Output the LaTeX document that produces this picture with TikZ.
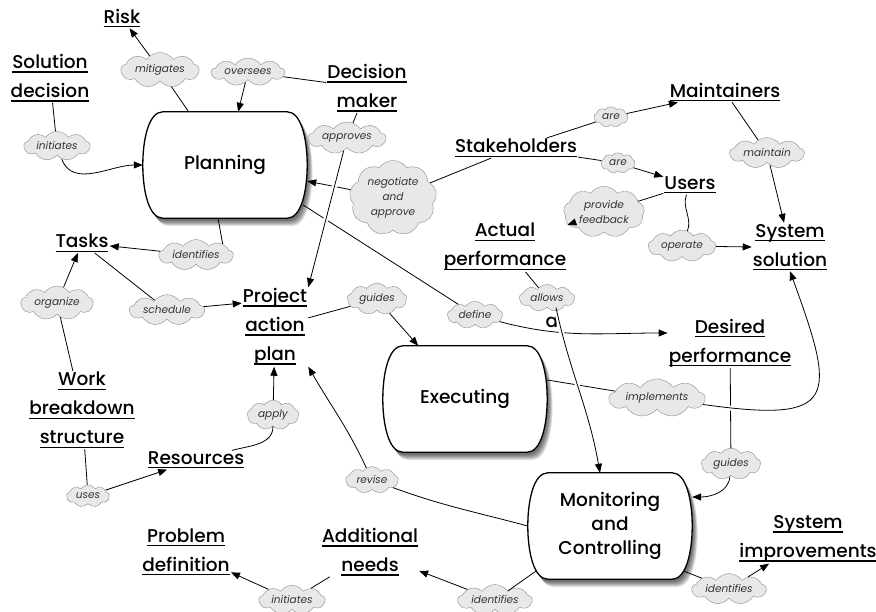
\documentclass[tikz,border=0pt]{standalone}
\usepackage{fontspec}
\setmainfont{Poppins}
\newfontfamily\conceptfont{Poppins Medium}
\usetikzlibrary{positioning, arrows.meta, calc, shapes.symbols, backgrounds}

% underline at a fixed depth below the baseline
\newcommand\uln[1]{\setbox0\hbox{#1}\rlap{\rule[-4pt]{\wd0}{1.2pt}}\box0}

% outline of a process box (flat top and bottom, bulging sides)
\newcommand\procbox[2]{%
  \path[#2] ($(#1.north west)+(20,0)$) -- ($(#1.north east)+(-20,0)$)
    .. controls ($(#1.north east)+(-6,0)$) and ($(#1.east)+(0,26)$) .. (#1.east)
    .. controls ($(#1.east)+(0,-26)$) and ($(#1.south east)+(-6,0)$) .. ($(#1.south east)+(-20,0)$)
    -- ($(#1.south west)+(20,0)$)
    .. controls ($(#1.south west)+(6,0)$) and ($(#1.west)+(0,-26)$) .. (#1.west)
    .. controls ($(#1.west)+(0,26)$) and ($(#1.north west)+(6,0)$) .. cycle;}

\begin{document}
\begin{tikzpicture}[
    x=1pt, y=1pt,
    >={Triangle[length=9pt,width=7pt]},
    concept/.style = {align=center, inner sep=1pt,
                      font=\conceptfont\fontsize{18.5}{29}\selectfont},
    process/.style = {align=center, minimum width=164pt, minimum height=106pt,
                      font=\conceptfont\fontsize{18.5}{24}\selectfont},
    link/.style    = {cloud, cloud puffs=9, cloud puff arc=110, cloud ignores aspect,
                      draw=black!45, fill=black!9, inner xsep=3pt, inner ysep=2.5pt,
                      align=center, text=black!80,
                      font=\fontsize{10.5}{15}\selectfont\itshape},
    line/.style    = {line width=0.8pt},
    arrow/.style   = {->, line width=0.8pt},
    hop/.style     = {preaction={draw=white, line width=5pt, -,
                                 shorten <=8pt, shorten >=12pt}}
]
\useasboundingbox (0,0) rectangle (876,-612);

% Process boxes
\node[process] (planning)   at (225,-165) {Planning};
\node[process] (executing)  at (465,-399) {Executing};
\node[process] (monitoring) at (610,-526) {Monitoring\\and\\Controlling};

\begin{scope}[on background layer]
\foreach \n in {planning, executing, monitoring} {
  \foreach \s in {1,...,7} {
    \procbox{\n}{fill=black, opacity=0.11,
                 transform canvas={shift={(0.5+0.7*\s,-1.5-0.9*\s)}}}
  }
  \procbox{\n}{fill=white, draw=black, line width=1.3pt}
}
\end{scope}

% Concepts
\node[concept] (risk)      at (122,-18)  {\uln{Risk}};
\node[concept] (soldec)    at (50,-78)   {\uln{Solution}\\\uln{decision}};
\node[concept] (decmaker)  at (367,-88)  {\uln{Decision}\\\uln{maker}};
\node[concept] (stake)     at (516,-148) {\uln{Stakeholders}};
\node[concept] (maint)     at (725,-92)  {\uln{Maintainers}};
\node[concept] (users)     at (690,-185) {\uln{Users}};
\node[concept] (syssol)    at (790,-247) {\uln{System}\\\uln{solution}};
\node[concept] (actual)    at (505,-247) {\uln{Actual}\\\uln{performance}};
\node[concept] (tasks)     at (82,-243)  {\uln{Tasks}};
\node[concept] (project)   at (275,-327) {\uln{Project}\\\uln{action}\\\uln{plan}};
\node[concept] (wbs)       at (82,-410)  {\uln{Work}\\\uln{breakdown}\\\uln{structure}};
\node[concept] (resources) at (196,-460) {\uln{Resources}};
\node[concept] (desired)   at (730,-343) {\uln{Desired}\\\uln{performance}};
\node[concept] (probdef)   at (186,-552) {\uln{Problem}\\\uln{definition}};
\node[concept] (addneeds)  at (370,-552) {\uln{Additional}\\\uln{needs}};
\node[concept] (sysimp)    at (808,-539) {\uln{System}\\\uln{improvements}};
\node[concept] (stray)     at (552,-322) {a};

% Linking phrases
\node[link] (mitigates)   at (160,-70)  {mitigates};
\node[link] (oversees)    at (248,-72)  {oversees};
\node[link] (initiatesA)  at (57,-146)  {initiates};
\node[link] (approves)    at (347,-138) {approves};
\node[link] (negotiate)   at (393,-198) {negotiate\\and\\approve};
\node[link] (identifiesA) at (196,-255) {identifies};
\node[link] (organize)    at (57,-303)  {organize};
\node[link] (schedule)    at (167,-310) {schedule};
\node[link] (guidesA)     at (377,-299) {guides};
\node[link] (define)      at (475,-315) {define};
\node[link] (allows)      at (547,-298) {allows};
\node[link] (areA)        at (611,-117) {are};
\node[link] (areB)        at (618,-163) {are};
\node[link] (maintain)    at (767,-153) {maintain};
\node[link] (feedback)    at (604,-212) {provide\\feedback};
\node[link] (operate)     at (682,-246) {operate};
\node[link] (apply)       at (273,-415) {apply};
\node[link] (uses)        at (88,-496)  {uses};
\node[link] (implements)  at (657,-398) {implements};
\node[link] (guidesB)     at (731,-464) {guides};
\node[link] (revise)      at (372,-480) {revise};
\node[link] (initiatesB)  at (292,-600) {initiates};
\node[link] (identifiesB) at (495,-600) {identifies};
\node[link] (identifiesC) at (729,-589) {identifies};

% Planning
\draw[line]  (planning) -- (mitigates);
\draw[arrow] (mitigates) -- (risk);
\draw[line]  (decmaker) -- (oversees);
\draw[arrow] (oversees) -- (planning);
\draw[line]  (soldec) -- (initiatesA);
\draw[arrow] (initiatesA) to[out=-70,in=180] (planning.west);
\draw[line]  (decmaker) -- (approves);
\draw[line]  (stake) -- (negotiate);
\draw[arrow] (negotiate) -- (planning);
\draw[line]  ($(planning.south)+(-7,0)$) -- (identifiesA.north east);
\draw[arrow] (identifiesA) -- (tasks);
\draw[line]  ($(planning.east)+(-4,-40)$) -- (define);
\draw[arrow] (define) to[out=-15,in=180] ([yshift=10pt]desired.west);

% Tasks and plan
\draw[line]  (wbs) -- (organize);
\draw[arrow] (organize) -- (tasks);
\draw[line]  (tasks) -- (schedule);
\draw[arrow] (schedule) -- ($(project.north west)!0.2!(project.south west)$);
\draw[line]  (wbs) -- (uses);
\draw[arrow] (uses) -- (resources);
\draw[line]  (resources) to[out=15,in=-90] (apply);
\draw[arrow] (apply) -- (project);
\draw[line]  (project) -- (guidesA);
\draw[arrow] (guidesA) -- (executing);

% Stakeholders
\draw[line]  (stake) -- (areA);
\draw[arrow] (areA) -- (maint);
\draw[line]  (stake) -- (areB);
\draw[arrow] (areB) -- (users);
\draw[line]  (maint) -- (maintain);
\draw[arrow] (maintain) -- (syssol);
\draw[line]  (users) -- (feedback);
\draw[arrow] (feedback) -- (actual);
\draw[line]  (users) to[out=-110,in=70] (operate);
\draw[arrow] (operate) -- (syssol.west);

% Executing and monitoring
\draw[line]  (actual) -- (allows);
\draw[line]  ($(executing.east)+(0,19)$) -- (implements);
\draw[line]  (desired) -- (guidesB);
\draw[arrow] (guidesB) to[out=-95,in=0] ([yshift=29pt]monitoring.east);
\draw[line]  (monitoring.west) to[out=165,in=-20] (revise);
\draw[arrow] (revise) to[out=115,in=-60] (project.south east);
\draw[line]  ($(monitoring.south west)+(8,8)$) -- (identifiesB);
\draw[arrow] (identifiesB) -- (addneeds);
\draw[line]  (addneeds) -- (initiatesB);
\draw[arrow] (initiatesB) -- (probdef);
\draw[line]  ($(monitoring.south east)+(-8,8)$) -- (identifiesC);
\draw[arrow] (identifiesC) -- (sysimp);

% Connectors that hop over the others
\draw[arrow, hop] (approves) -- (project.north east);
\draw[arrow, hop] ([xshift=9pt]allows.south) to[out=-78,in=100] ([xshift=-10pt]monitoring.north);
\draw[arrow, hop] (implements) to[out=-8,in=-70,looseness=2.2] (syssol.south);

\end{tikzpicture}
\end{document}
